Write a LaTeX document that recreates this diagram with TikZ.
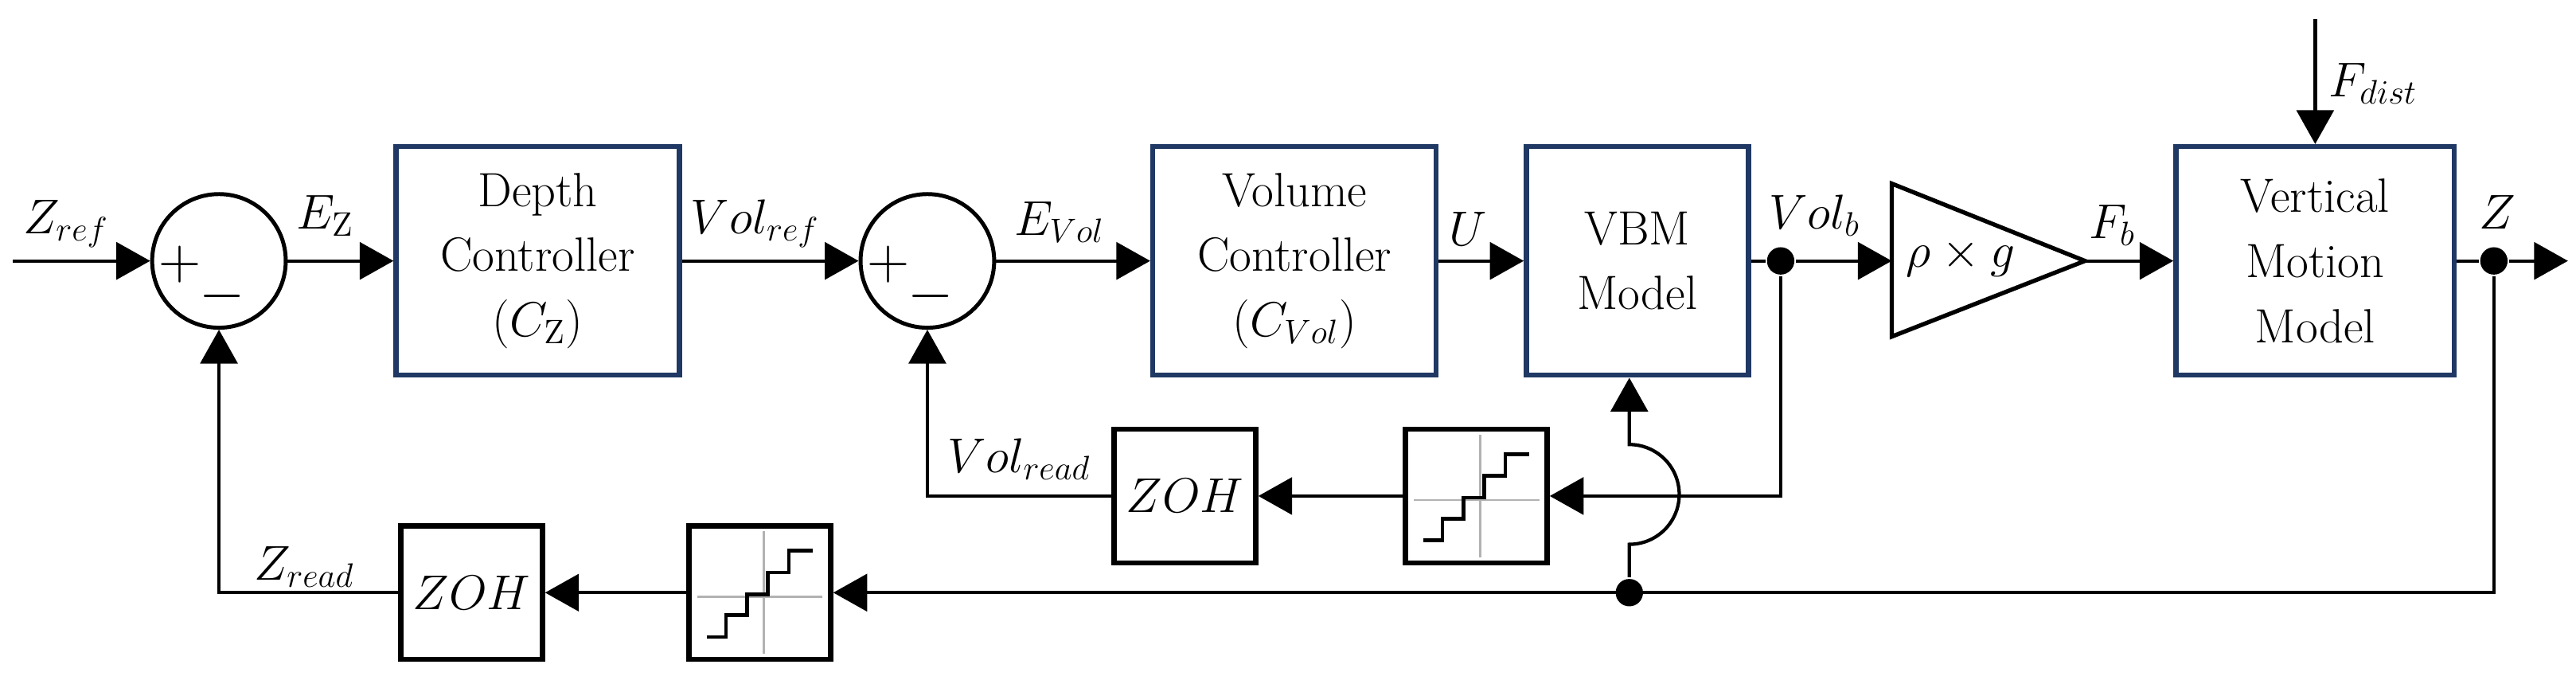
\documentclass[tikz,border=0pt]{standalone}
\usetikzlibrary{arrows.meta,shapes.geometric}
\definecolor{boxblue}{HTML}{1F3864}
\begin{document}
\begin{tikzpicture}[x=0.02cm,y=-0.02cm,
  line width=1.2pt,
  arr/.style={-{Triangle[length=0.42cm,width=0.46cm]}},
  blk/.style={draw=boxblue,line width=1.8pt,align=center,inner sep=0pt,minimum height=2.84cm,font=\fontsize{17}{23}\selectfont},
  sm/.style={draw,circle,line width=1.4pt,minimum size=1.66cm,inner sep=0pt},
  zoh/.style={draw,line width=1.8pt,minimum width=1.76cm,minimum height=1.66cm,inner sep=0pt,font=\fontsize{18}{22}\selectfont},
  lab/.style={font=\fontsize{18}{22}\selectfont,inner sep=1pt},
  pm/.style={font=\fontsize{20}{20}\selectfont,inner sep=0pt},
  dot/.style={circle,fill,inner sep=0pt,minimum size=0.34cm},
  quant/.pic={
    \draw[gray!60,line width=0.8pt] (-0.78cm,-0.05cm) -- (0.78cm,-0.05cm) (0.05cm,-0.76cm) -- (0.05cm,0.76cm);
    \draw[line width=1.3pt] (-0.66cm,-0.55cm) -- (-0.42cm,-0.55cm) -- (-0.42cm,-0.28cm) -- (-0.16cm,-0.28cm) -- (-0.16cm,-0.02cm) -- (0.1cm,-0.02cm) -- (0.1cm,0.25cm) -- (0.36cm,0.25cm) -- (0.36cm,0.52cm) -- (0.66cm,0.52cm);
  }]
\useasboundingbox (0,0) rectangle (1600,421.8);
% main path nodes
\coordinate (in) at (8,162);
\node[sm] (s1) at (136,162) {};
\node[pm] (p1) at (112,164) {$+$};
\node[pm] (m1) at (138,184) {$-$};
\node[blk,minimum width=3.52cm] (dc) at (334,162) {Depth\\Controller\\$(C_{\mathrm{Z}})$};
\node[sm] (s2) at (576,162) {};
\node[pm] (p2) at (552,164) {$+$};
\node[pm] (m2) at (578,184) {$-$};
\node[blk,minimum width=3.52cm] (vc) at (804,162) {Volume\\Controller\\$(C_{Vol})$};
\node[blk,minimum width=2.76cm] (vbm) at (1017,162) {VBM\\Model};
\node[dot] (dotb) at (1106,162) {};
\coordinate (triin) at (1175,162);
\coordinate (triout) at (1295,162);
\draw[line width=1.5pt] (1175,114) -- (triout) -- (1175,209) -- cycle;
\node[font=\fontsize{18}{22}\selectfont] (tri) at (1218,160) {$\rho\times g$};
\node[blk,minimum width=3.46cm] (vmm) at (1438,162) {Vertical\\Motion\\Model};
\coordinate (fd) at (1438,12);
\node[dot] (dotz) at (1549,162) {};
\coordinate (out) at (1595,162);
% feedback nodes
\node[zoh] (q1) at (917,308) {};
\pic at (q1) {quant};
\node[zoh] (zoh1) at (736,308) {$ZOH$};
\node[zoh] (q2) at (472,368) {};
\pic at (q2) {quant};
\node[zoh] (zoh2) at (293,368) {$ZOH$};
\node[dot] (d2) at (1012,368) {};
\coordinate (hb) at (1012,338);
% labels
\node[lab] (lzr) at (41,139) {$Z_{ref}$};
\node[lab] (lez) at (202,134) {$E_{\mathrm{Z}}$};
\node[lab] (lvr) at (469,139) {$Vol_{ref}$};
\node[lab] (lev) at (658,138) {$E_{Vol}$};
\node[lab] (lu) at (912,142) {$U$};
\node[lab] (lvb) at (1127,134) {$Vol_{b}$};
\node[lab] (lfb) at (1312,140) {$F_{b}$};
\node[lab] (lfd) at (1474,52) {$F_{dist}$};
\node[lab] (lz) at (1551,132) {$Z$};
\node[lab] (lvrd) at (633,285) {$Vol_{read}$};
\node[lab] (lzrd) at (189,352) {$Z_{read}$};
% connectors
\draw[arr] (in) -- (s1.west);
\draw[arr] (s1.east) -- (dc.west);
\draw[arr] (dc.east) -- (s2.west);
\draw[arr] (s2.east) -- (vc.west);
\draw[arr] (vc.east) -- (vbm.west);
\draw (vbm.east) -- (dotb);
\draw[arr] (dotb) -- (triin);
\draw[arr] (triout) -- (vmm.west);
\draw[arr] (fd) -- (vmm.north);
\draw (vmm.east) -- (dotz);
\draw[arr] (dotz) -- (out);
\draw[arr] (dotb) |- (q1.east);
\draw[arr] (q1.west) -- (zoh1.east);
\draw[arr] (zoh1.west) -| (s2.south);
\draw[arr] (dotz) |- (q2.east);
\draw[arr] (q2.west) -- (zoh2.east);
\draw[arr] (zoh2.west) -| (s1.south);
\draw[arr] (d2) -- (hb) arc[start angle=270,end angle=450,radius=0.62cm] -- (vbm.south -| hb);
\end{tikzpicture}
\end{document}
